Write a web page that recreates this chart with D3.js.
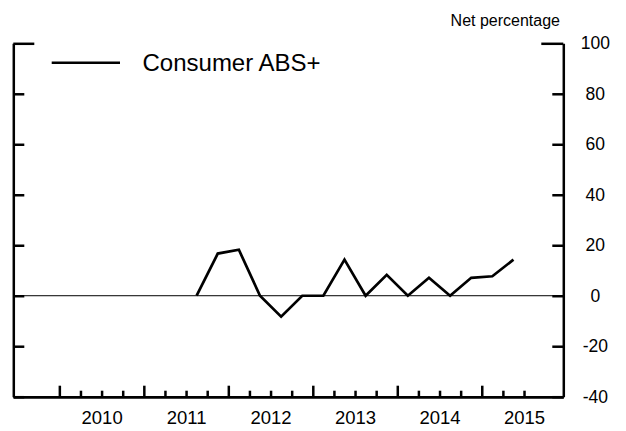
<!DOCTYPE html>
<html>
<head>
<meta charset="utf-8">
<script src="https://cdn.jsdelivr.net/npm/d3@7"></script>
<style>
  body { margin: 0; background: #fff; }
  text { font-family: "Liberation Sans", Arial, sans-serif; fill: #000; }
</style>
</head>
<body>
<script>
// survey quarters (plotted mid-quarter) and net percentage values
var quarters = ["2011Q3", "2011Q4", "2012Q1", "2012Q2", "2012Q3", "2012Q4", "2013Q1", "2013Q2",
                "2013Q3", "2013Q4", "2014Q1", "2014Q2", "2014Q3", "2014Q4", "2015Q1", "2015Q2"];
var consumerAbs = [0, 16.7, 18.2, 0, -8.3, 0, 0, 14.3, 0, 8.3, 0, 7.1, 0, 7.1, 7.7, 14.3];
var yTicks = [-40, -20, 0, 20, 40, 60, 80, 100];
var years = [2010, 2011, 2012, 2013, 2014, 2015];
var seriesName = "Consumer ABS+";
var unitLabel = "Net percentage";

var width = 626, height = 431;
var plotLeft = 13.3, plotRight = 563.3, plotTop = 43.3, plotBottom = 396.7;

function qToYear(q) {
  return +q.slice(0, 4) + (+q.slice(5) - 1) * 0.25 + 0.125;
}

var data = quarters.map(function(q, i) { return { x: qToYear(q), y: consumerAbs[i] }; });

var x = d3.scaleLinear().domain([2009.455, 2015.965]).range([plotLeft, plotRight]);
var y = d3.scaleLinear().domain([-40, 100]).range([plotBottom, plotTop]);

var svg = d3.select("body").append("svg")
  .attr("width", width)
  .attr("height", height);

// zero line
svg.append("line")
  .attr("x1", plotLeft).attr("x2", plotRight)
  .attr("y1", y(0)).attr("y2", y(0))
  .attr("stroke", "#000").attr("stroke-width", 1);

// left axis, ticks inward, no labels
var leftAxis = svg.append("g")
  .attr("transform", "translate(" + plotLeft + ",0)")
  .call(d3.axisLeft(y).tickValues(yTicks).tickSize(-11).tickSizeOuter(0).tickFormat(""));
leftAxis.selectAll(".tick line").filter(function(d) { return d === 100; }).attr("x2", 21);

// right axis with labels (plain hyphen for negatives)
var rightAxis = svg.append("g")
  .attr("transform", "translate(" + plotRight + ",0)")
  .call(d3.axisRight(y).tickValues(yTicks).tickSize(-11).tickSizeOuter(0)
    .tickFormat(function(d) { return String(d); }));
rightAxis.selectAll(".tick line").filter(function(d) { return d === 100; }).attr("x2", -22);
rightAxis.selectAll(".tick text")
  .attr("x", 32)
  .attr("text-anchor", "middle")
  .style("font-size", "17.5px");

// bottom axis: quarterly minor ticks, yearly major ticks
var minorTicks = [];
years.forEach(function(yr) {
  [0.25, 0.5, 0.75].forEach(function(f) { if (yr + f < 2015.7) minorTicks.push(yr + f); });
});

svg.append("g")
  .attr("transform", "translate(0," + plotBottom + ")")
  .call(d3.axisBottom(x).tickValues(minorTicks).tickSize(-6).tickSizeOuter(0).tickFormat(""));

svg.append("g")
  .attr("transform", "translate(0," + plotBottom + ")")
  .call(d3.axisBottom(x).tickValues(years).tickSize(-11).tickSizeOuter(0).tickFormat(""));

var labelAxis = svg.append("g")
  .attr("transform", "translate(0," + plotBottom + ")")
  .call(d3.axisBottom(x).tickValues(years.map(function(d) { return d + 0.5; }))
    .tickSize(0).tickPadding(14).tickFormat(function(d) { return Math.floor(d); }));
labelAxis.select(".domain").remove();
labelAxis.selectAll(".tick text").style("font-size", "18.5px");

svg.selectAll(".domain, .tick line")
  .attr("stroke", "#000")
  .attr("stroke-width", 2.5);

// series line
var line = d3.line()
  .x(function(d) { return x(d.x); })
  .y(function(d) { return y(d.y); });

svg.append("path")
  .datum(data)
  .attr("d", line)
  .attr("fill", "none")
  .attr("stroke", "#000")
  .attr("stroke-width", 2.7)
  .attr("stroke-linejoin", "miter");

// legend
svg.append("line")
  .attr("x1", 51.7).attr("x2", 120)
  .attr("y1", 62.7).attr("y2", 62.7)
  .attr("stroke", "#000").attr("stroke-width", 2.5);
svg.append("text")
  .attr("x", 142.5).attr("y", 71)
  .style("font-size", "24px")
  .text(seriesName);

// unit label
svg.append("text")
  .attr("x", 560).attr("y", 26)
  .attr("text-anchor", "end")
  .style("font-size", "16px")
  .text(unitLabel);
</script>
</body>
</html>
